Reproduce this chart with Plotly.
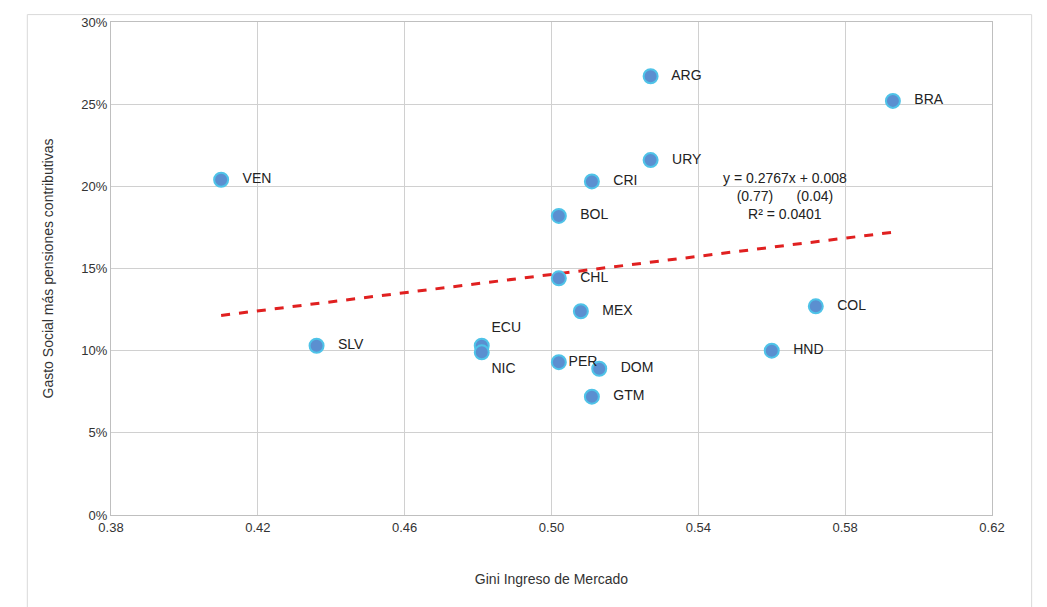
import plotly.graph_objects as go

paises = ["VEN", "SLV", "ECU", "NIC", "BOL", "CHL", "PER", "MEX", "CRI", "DOM",
          "GTM", "ARG", "URY", "HND", "COL", "BRA"]
gini = [0.410, 0.436, 0.481, 0.481, 0.502, 0.502, 0.502, 0.508, 0.511, 0.513,
        0.511, 0.527, 0.527, 0.560, 0.572, 0.593]
gasto = [0.204, 0.103, 0.103, 0.099, 0.182, 0.144, 0.093, 0.124, 0.203, 0.089,
         0.072, 0.267, 0.216, 0.100, 0.127, 0.252]
pendiente = 0.2767
intercepto = 0.008

# Etiquetas: la mayoría a la derecha; ECU, NIC y PER pegadas al punto
etiquetas = ["   " + p for p in paises]
pos_texto = ["middle right"] * len(paises)
for p, pos in [("ECU", "top right"), ("NIC", "bottom right"), ("PER", "middle right")]:
    i = paises.index(p)
    etiquetas[i] = p
    pos_texto[i] = pos

fig = go.Figure()

x_tr = [min(gini), max(gini)]
fig.add_trace(go.Scatter(x=x_tr, y=[pendiente * v + intercepto for v in x_tr],
                         mode="lines", line=dict(color="#e02020", width=3, dash="dash"),
                         hoverinfo="skip"))

fig.add_trace(go.Scatter(
    x=gini, y=gasto, mode="markers+text", text=etiquetas,
    textposition=pos_texto, textfont=dict(family="Liberation Sans", size=14, color="#222"),
    marker=dict(size=14, color="#5b8fd0", line=dict(color="#4fc3e8", width=2)),
))

fig.add_annotation(x=0.5637, y=0.194, xref="x", yref="y", showarrow=False,
                   text="y = 0.2767x + 0.008<br>(0.77)      (0.04)<br>R² = 0.0401",
                   font=dict(family="Liberation Sans", size=14, color="#222"), align="center")

ejes = dict(showgrid=True, gridcolor="#d0d0d0", gridwidth=1, zeroline=False,
            showline=True, linecolor="#bfbfbf", ticks="", mirror=True, automargin=False,
            tickfont=dict(family="Liberation Sans", size=13, color="#333"))

fig.update_layout(
    width=1047, height=607, showlegend=False,
    paper_bgcolor="white", plot_bgcolor="white",
    margin=dict(l=103, r=63, t=14, b=100),
    font=dict(family="Liberation Sans", color="#333"),
    xaxis=dict(range=[0.38, 0.62], tick0=0.38, dtick=0.04, tickformat=".2f",
               title=dict(text="Gini Ingreso de Mercado", font=dict(size=14), standoff=40), **ejes),
    yaxis=dict(range=[0, 0.30], dtick=0.05, tickformat=".0%",
               title=dict(text="Gasto Social más pensiones contributivas", font=dict(size=14), standoff=24), **ejes),
    shapes=[dict(type="rect", xref="paper", yref="paper", x0=-0.095, x1=1.045, y0=-0.19, y1=1.015,
                 line=dict(color="#d9d9d9", width=1))],
)

fig.write_html("out.html")
